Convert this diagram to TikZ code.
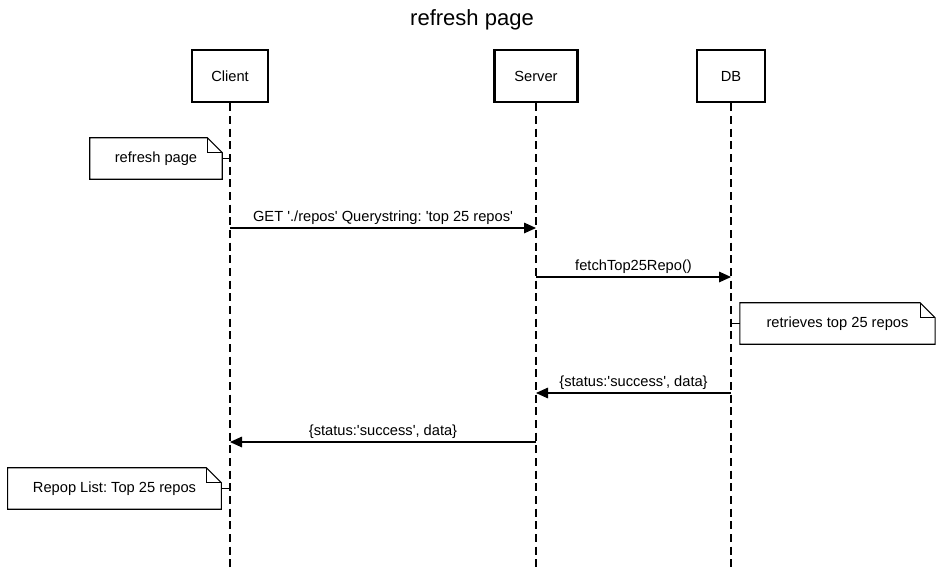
\documentclass[tikz,border=0pt]{standalone}
\usepackage{fontspec}
\setmainfont{Liberation Sans}
\usetikzlibrary{arrows.meta,calc,positioning}
\tikzset{
actor/.style = {draw, line width=2.1pt, fill=white, rectangle, align=center, minimum height=39pt, font=\fontsize{11}{13}\selectfont},
lifeline/.style = {dash pattern=on 6pt off 3.5pt, line width=0.8pt},
msg/.style = {-{Triangle[length=9pt,width=8pt]}, line width=0.8pt},
mlabel/.style = {above, inner sep=2.5pt, font=\fontsize{11}{13}\selectfont},
notebox/.style = {rectangle, minimum height=30.75pt, align=center, font=\fontsize{11}{13}\selectfont},
}
\frenchspacing
% straight quote
\newcommand{\sq}{\textquotesingle}
% folded corner of a note
\newcommand{\notefold}[1]{
    \draw[line width=0.8pt] (#1.south west) |- ($(#1.north east)+(-11.25pt,0)$) -- ($(#1.north east)+(0,-11.25pt)$) |- cycle;
    \draw[line width=0.8pt] ($(#1.north east)+(-11.25pt,0)$) |- ($(#1.north east)+(0,-11.25pt)$);
}

\begin{document}
\begin{tikzpicture}[x=0.75pt, y=-0.75pt]
    \useasboundingbox (0,0) rectangle (944,571);
    \node [font=\fontsize{16.5}{19}\selectfont, name=title] at (472,20) {refresh page};

    \node [actor, name=client, minimum width=57pt] at (230,76) {Client};
    \node [actor, name=server, minimum width=62pt] at (536,76) {Server};
    \node [actor, name=db, minimum width=51pt] at (731,76) {DB};

    \coordinate (clientend) at (230,571);
    \coordinate (serverend) at (536,571);
    \coordinate (dbend) at (731,571);

    \draw [lifeline] (client) -- (clientend);
    \draw [lifeline] (server) -- (serverend);
    \draw [lifeline] (db) -- (dbend);

    % notes
    \node [notebox, name=note1, minimum width=99pt] at (156,158.5) {refresh page};
    \node [notebox, name=note2, minimum width=146pt] at (837.5,323.5) {retrieves top 25 repos};
    \node [notebox, name=note3, minimum width=160pt] at (114.5,488.5) {Repop List: Top 25 repos};
    \notefold{note1}
    \notefold{note2}
    \notefold{note3}
    \draw [line width=0.8pt] (note1.east) -- (note1.east -| client);
    \draw [line width=0.8pt] (note2.west) -- (note2.west -| db);
    \draw [line width=0.8pt] (note3.east) -- (note3.east -| client);

    % messages
    \coordinate (m1a) at (230,228);
    \coordinate (m1b) at (536,228);
    \coordinate (m2a) at (536,277);
    \coordinate (m2b) at (731,277);
    \coordinate (m3a) at (731,393);
    \coordinate (m3b) at (536,393);
    \coordinate (m4a) at (536,442);
    \coordinate (m4b) at (230,442);

    \draw [msg] (m1a) -- node[mlabel]{GET \sq./repos\sq{} Querystring: \sq top 25 repos\sq} (m1b);
    \draw [msg] (m2a) -- node[mlabel]{fetchTop25Repo()} (m2b);
    \draw [msg] (m3a) -- node[mlabel]{\{status:\sq success\sq, data\}} (m3b);
    \draw [msg] (m4a) -- node[mlabel]{\{status:\sq success\sq, data\}} (m4b);
\end{tikzpicture}
\end{document}
